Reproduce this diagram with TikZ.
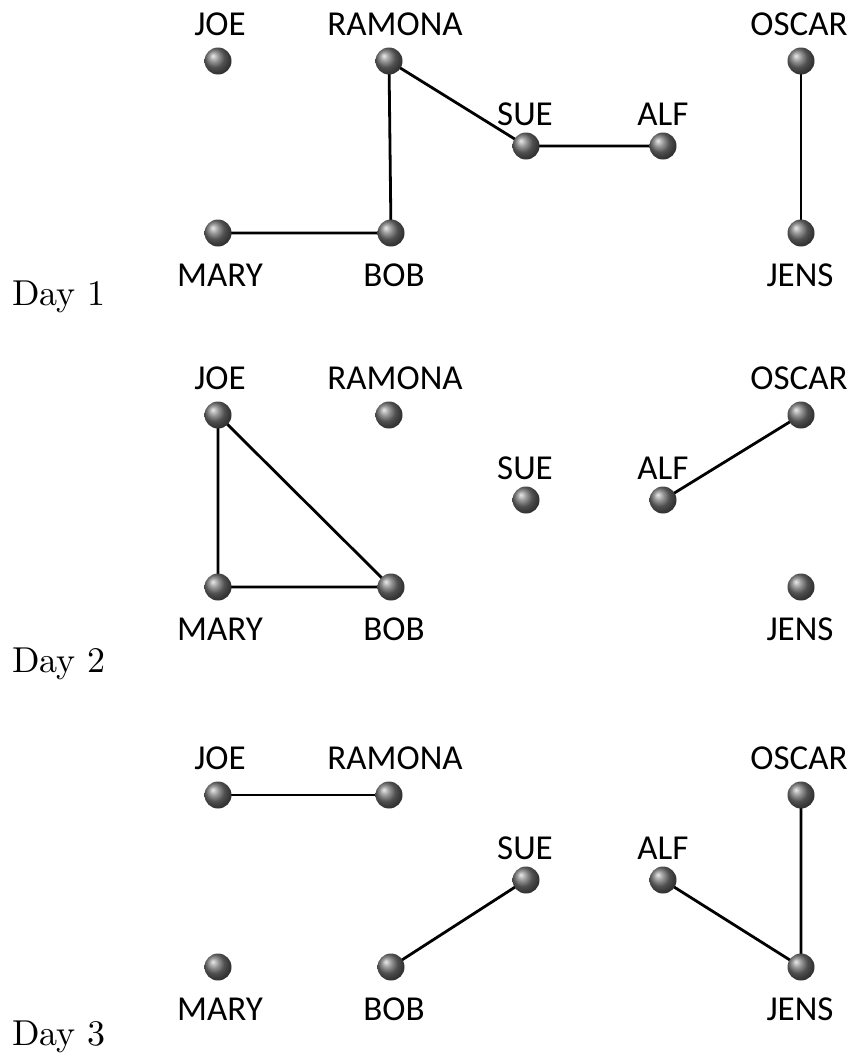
\documentclass[tikz,border=0pt]{standalone}
\usepackage{fontspec}
\newfontfamily\labelfont{Carlito}
\newfontfamily\dayfont{lmroman10-regular}[Extension=.otf]
\usetikzlibrary{backgrounds}
\begin{document}
\begin{tikzpicture}[x=1pt,y=-1pt,
  person/.style={circle,inner sep=0pt,minimum size=27pt,shading=ball,ball color=black!55},
  nametag/.style={anchor=base,inner sep=0pt,font=\labelfont\fontsize{35}{40}\selectfont},
  daylabel/.style={anchor=base west,inner sep=0pt,font=\dayfont\fontsize{36}{40}\selectfont},
  tie/.style={line width=2.8pt,black,line cap=round}]
\useasboundingbox (0,0) rectangle (864,1055);

% three days, same seating plan shifted down
\foreach \d/\oy in {1/0,2/354,3/734}{
  \node[person] (joe\d)    at (218,61+\oy)  {};
  \node[person] (ramona\d) at (389,61+\oy)  {};
  \node[person] (oscar\d)  at (801,61+\oy)  {};
  \node[person] (sue\d)    at (526,146+\oy) {};
  \node[person] (alf\d)    at (663,146+\oy) {};
  \node[person] (mary\d)   at (218,233+\oy) {};
  \node[person] (bob\d)    at (391,233+\oy) {};
  \node[person] (jens\d)   at (801,233+\oy) {};
  \node[nametag] (joe\d-l)    at (220,35+\oy)  {JOE};
  \node[nametag] (ramona\d-l) at (395,35+\oy)  {RAMONA};
  \node[nametag] (oscar\d-l)  at (799,35+\oy)  {OSCAR};
  \node[nametag] (sue\d-l)    at (525,125+\oy) {SUE};
  \node[nametag] (alf\d-l)    at (663,125+\oy) {ALF};
  \node[nametag] (mary\d-l)   at (220,286+\oy) {MARY};
  \node[nametag] (bob\d-l)    at (394,286+\oy) {BOB};
  \node[nametag] (jens\d-l)   at (800,286+\oy) {JENS};
}

\node[daylabel] (day1) at (12,305)  {Day 1};
\node[daylabel] (day2) at (12,672)  {Day 2};
\node[daylabel] (day3) at (12,1045) {Day 3};

\begin{scope}[on background layer]
  % Day 1
  \draw[tie] (mary1.center) -- (bob1.center) -- (ramona1.center) -- (sue1.center) -- (alf1.center);
  \draw[tie] (oscar1.center) -- (jens1.center);
  % Day 2
  \draw[tie] (joe2.center) -- (mary2.center) -- (bob2.center) -- (joe2.center);
  \draw[tie] (alf2.center) -- (oscar2.center);
  % Day 3
  \draw[tie] (joe3.center) -- (ramona3.center);
  \draw[tie] (bob3.center) -- (sue3.center);
  \draw[tie] (alf3.center) -- (jens3.center) -- (oscar3.center);
\end{scope}
\end{tikzpicture}
\end{document}
